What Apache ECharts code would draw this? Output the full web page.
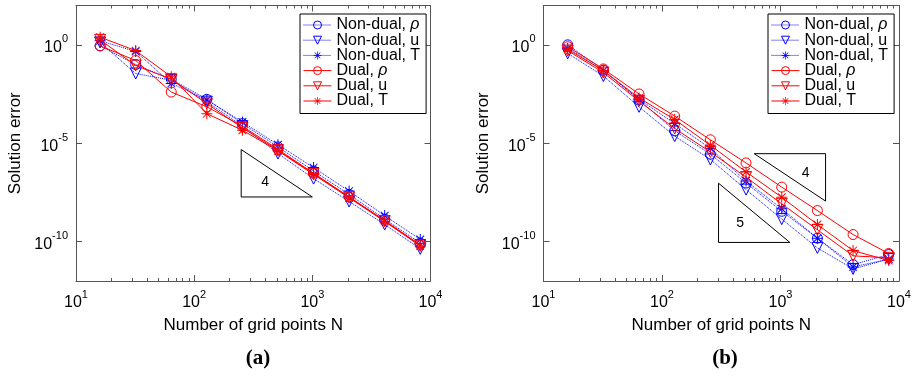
<!DOCTYPE html>
<html>
<head>
<meta charset="utf-8">
<script src="https://cdn.jsdelivr.net/npm/echarts@6/dist/echarts.min.js"></script>
<style>html,body{margin:0;padding:0;background:#fff}#c{width:916px;height:377px}</style>
</head>
<body>
<div id="c"></div>
<script>
// ---------- data ----------
const gridPoints = [16, 32, 64, 128, 256, 512, 1024, 2048, 4096, 8192];
const seriesNames = ['Non-dual, ρ', 'Non-dual, u', 'Non-dual, T', 'Dual, ρ', 'Dual, u', 'Dual, T'];

// panel (a)
const aNonDualRho = [0.89, 0.10, 1.8e-2, 1.7e-3, 1.0e-4, 6.5e-6, 3.9e-7, 2.5e-8, 1.4e-9, 8.5e-11];
const aNonDualU   = [1.32, 3.5e-2, 1.6e-2, 1.3e-3, 7.4e-5, 3.0e-6, 1.6e-7, 1.1e-8, 7.4e-10, 4.3e-11];
const aNonDualT   = [1.6, 0.46, 1.1e-2, 1.6e-3, 1.2e-4, 8.5e-6, 5.8e-7, 3.7e-8, 2.1e-9, 1.3e-10];
const aDualRho    = [0.89, 0.16, 4.0e-3, 7.1e-4, 7.4e-5, 4.9e-6, 3.0e-7, 1.9e-8, 1.2e-9, 6.8e-11];
const aDualU      = [1.8, 8.9e-2, 1.8e-2, 1.05e-3, 6.0e-5, 4.4e-6, 2.8e-7, 1.8e-8, 1.1e-9, 6.3e-11];
const aDualT      = [2.45, 0.51, 2.4e-2, 3.2e-4, 4.6e-5, 4.1e-6, 2.6e-7, 1.7e-8, 1.07e-9, 6.0e-11];

// panel (b)
const bNonDualRho = [1.0, 5.2e-2, 1.6e-3, 4.3e-5, 2.8e-6, 9.5e-8, 3.5e-9, 1.5e-10, 6.8e-12, 2.2e-11];
const bNonDualU   = [0.37, 2.6e-2, 7.1e-4, 2.3e-5, 1.5e-6, 4.4e-8, 1.4e-9, 4.8e-11, 4.1e-12, 1.3e-11];
const bNonDualT   = [0.68, 4.9e-2, 1.7e-3, 1.0e-4, 5.4e-6, 1.2e-7, 4.7e-9, 1.5e-10, 5.2e-12, 1.3e-11];
const bDualRho    = [0.81, 6.0e-2, 3.2e-3, 2.4e-4, 1.5e-5, 1.0e-6, 5.9e-8, 3.8e-9, 2.3e-10, 2.5e-11];
const bDualU      = [0.51, 3.9e-2, 1.4e-3, 5.6e-5, 3.6e-6, 1.9e-7, 8.3e-9, 4.0e-10, 1.9e-11, 1.5e-11];
const bDualT      = [0.60, 4.9e-2, 2.0e-3, 1.6e-4, 7.9e-6, 3.5e-7, 1.8e-8, 7.4e-10, 3.5e-11, 1.1e-11];

// slope triangles: [x1,y1,x2,y2,x3,y3,labelX,labelY,label]
const aTriangles = [[250, 4.8e-6, 250, 1.86e-8, 1000, 1.86e-8, 398, 1.07e-7, '4']];
const bTriangles = [
  [600, 2.95e-6, 2400, 2.95e-6, 2400, 1.15e-8, 1630, 3.0e-7, '4'],
  [300, 9.3e-8, 300, 9.1e-11, 1200, 9.1e-11, 456, 8.5e-10, '5']
];

// ticks
const xMajorTicks = [10, 100, 1000, 10000];
const xMinorTicks = [20, 30, 40, 50, 60, 70, 80, 90, 200, 300, 400, 500, 600, 700, 800, 900,
                     2000, 3000, 4000, 5000, 6000, 7000, 8000, 9000];
const yMajorTicks = [1e-10, 1e-5, 1];

// ---------- chart ----------
const FONT = 'Liberation Sans, Arial, Helvetica, sans-serif';
const AX = '#555';
const chart = echarts.init(document.getElementById('c'), null, {renderer: 'canvas'});

const supFmt = v => '{b|10}{s|' + Math.round(Math.log10(v)) + '}';
const supRich = {
  b: {fontSize: 16, fontFamily: FONT, color: '#000', lineHeight: 22, verticalAlign: 'bottom'},
  s: {fontSize: 11, fontFamily: FONT, color: '#000', lineHeight: 22, verticalAlign: 'top'}
};

const STAR = 'path://M9.1,0L10.9,0L10.9,20L9.1,20Z M0,9.1L20,9.1L20,10.9L0,10.9Z ' +
  'M3.64,2.36L17.64,16.36L16.36,17.64L2.36,3.64Z M16.36,2.36L17.64,3.64L3.64,17.64L2.36,16.36Z';

const styles = [
  {color: '#0000ff', type: 'dotted', symbol: 'circle', size: 10, rot: 0, filled: false},
  {color: '#0000ff', type: 'dotted', symbol: 'triangle', size: 11, rot: 180, filled: false},
  {color: '#0000ff', type: 'dotted', symbol: STAR, size: 11, rot: 0, filled: true},
  {color: '#ff0000', type: 'solid', symbol: 'circle', size: 10, rot: 0, filled: false},
  {color: '#ff0000', type: 'solid', symbol: 'triangle', size: 11, rot: 180, filled: false},
  {color: '#ff0000', type: 'solid', symbol: STAR, size: 11, rot: 0, filled: true}
];

const grids = [
  {left: 76, top: 5.5, width: 354.5, height: 275.5},
  {left: 543.5, top: 5.5, width: 355.5, height: 275.5}
];

const xAxes = [], yAxes = [];
grids.forEach((g, gi) => {
  xAxes.push({
    gridIndex: gi, type: 'log', logBase: 10, min: 10, max: 10000, position: 'bottom',
    axisLine: {show: true, lineStyle: {color: AX, width: 1}},
    axisTick: {show: true, inside: true, length: 6, lineStyle: {color: AX}, customValues: xMajorTicks},
    axisLabel: {show: true, margin: 8, formatter: supFmt, rich: supRich, customValues: xMajorTicks},
    splitLine: {show: false},
    name: 'Number of grid points N', nameLocation: 'middle', nameGap: 36,
    nameTextStyle: {fontSize: 17, fontFamily: FONT, color: '#000'}
  });
  xAxes.push({
    gridIndex: gi, type: 'log', logBase: 10, min: 10, max: 10000, position: 'top',
    axisLine: {show: true, lineStyle: {color: AX, width: 1}},
    axisTick: {show: true, inside: true, length: 6, lineStyle: {color: AX}, customValues: xMajorTicks},
    axisLabel: {show: false}, splitLine: {show: false}
  });
  ['bottom', 'top'].forEach(pos => xAxes.push({
    gridIndex: gi, type: 'log', logBase: 10, min: 10, max: 10000, position: pos, offset: 0,
    axisLine: {show: false},
    axisTick: {show: true, inside: true, length: 3, lineStyle: {color: AX}, customValues: xMinorTicks},
    axisLabel: {show: false}, splitLine: {show: false}
  }));
  yAxes.push({
    gridIndex: gi, type: 'log', logBase: 10, min: 1e-12, max: 1e2, position: 'left',
    axisLine: {show: true, lineStyle: {color: AX, width: 1}},
    axisTick: {show: true, inside: true, length: 6, lineStyle: {color: AX}, customValues: yMajorTicks},
    axisLabel: {show: true, margin: 8, formatter: supFmt, rich: supRich, customValues: yMajorTicks},
    splitLine: {show: false},
    name: 'Solution error', nameLocation: 'middle', nameGap: 52, nameRotate: 90,
    nameTextStyle: {fontSize: 17, fontFamily: FONT, color: '#000'}
  });
  yAxes.push({
    gridIndex: gi, type: 'log', logBase: 10, min: 1e-12, max: 1e2, position: 'right',
    axisLine: {show: true, lineStyle: {color: AX, width: 1}},
    axisTick: {show: true, inside: true, length: 6, lineStyle: {color: AX}, customValues: yMajorTicks},
    axisLabel: {show: false}, splitLine: {show: false}
  });
});

const panelData = [
  [aNonDualRho, aNonDualU, aNonDualT, aDualRho, aDualU, aDualT],
  [bNonDualRho, bNonDualU, bNonDualT, bDualRho, bDualU, bDualT]
];

const series = [];
panelData.forEach((arrs, gi) => {
  arrs.forEach((vals, si) => {
    const st = styles[si];
    series.push({
      name: seriesNames[si], type: 'line',
      xAxisIndex: gi * 4, yAxisIndex: gi * 2,
      data: gridPoints.map((n, i) => [n, vals[i]]),
      symbol: st.symbol, symbolSize: st.size, symbolRotate: st.rot,
      showAllSymbol: true,
      lineStyle: {color: st.color, width: 1, type: st.type},
      itemStyle: st.filled
        ? {color: st.color, borderWidth: 0}
        : {color: 'rgba(0,0,0,0)', borderColor: st.color, borderWidth: 1},
      emphasis: {disabled: true},
      animation: false, z: 2 + si
    });
  });
});

function triangleRender(params, api) {
  const p1 = api.coord([api.value(0), api.value(1)]);
  const p2 = api.coord([api.value(2), api.value(3)]);
  const p3 = api.coord([api.value(4), api.value(5)]);
  const pl = api.coord([api.value(6), api.value(7)]);
  return {
    type: 'group',
    children: [
      {type: 'polygon', shape: {points: [p1, p2, p3]},
       style: {fill: null, stroke: '#000', lineWidth: 1}},
      {type: 'text', x: pl[0], y: pl[1],
       style: {text: String(api.value(8)), fill: '#000', font: '14px ' + FONT,
               align: 'center', verticalAlign: 'middle'}}
    ]
  };
}
[aTriangles, bTriangles].forEach((tris, gi) => {
  series.push({
    type: 'custom', xAxisIndex: gi * 4, yAxisIndex: gi * 2,
    renderItem: triangleRender, data: tris, silent: true, animation: false, z: 1,
    encode: {x: [0, 2, 4, 6], y: [1, 3, 5, 7]}
  });
});

const LEG_SIZE = 16;
function makeLegend(left) {
  return {
    orient: 'vertical', left: left, top: 14, itemWidth: 28, itemHeight: 10, itemGap: -0.8,
    padding: [3, 6, 4.5, 3], backgroundColor: '#fff', borderColor: '#000', borderWidth: 1,
    selectedMode: false,
    data: seriesNames,
    itemStyle: {borderWidth: 1},
    lineStyle: {width: 1, type: 'inherit'},
    formatter: name => {
      const k = name.indexOf('ρ');
      return k >= 0 ? name.slice(0, k) + '{i|ρ}' : name;
    },
    textStyle: {
      fontSize: LEG_SIZE, fontFamily: FONT, color: '#000', lineHeight: 14,
      rich: {i: {fontSize: LEG_SIZE, fontFamily: FONT, fontStyle: 'italic', color: '#000', lineHeight: 14}}
    }
  };
}

const option = {
  animation: false,
  backgroundColor: '#fff',
  title: [
    {text: '(a)', left: 253, top: 343, textAlign: 'center',
     textStyle: {fontFamily: 'Liberation Serif, Times New Roman, serif', fontWeight: 'bold', fontSize: 21, color: '#000'}},
    {text: '(b)', left: 720, top: 343, textAlign: 'center',
     textStyle: {fontFamily: 'Liberation Serif, Times New Roman, serif', fontWeight: 'bold', fontSize: 21, color: '#000'}}
  ],
  legend: [makeLegend(300), makeLegend(768)],
  grid: grids,
  xAxis: xAxes,
  yAxis: yAxes,
  series: series
};
chart.setOption(option);
</script>
</body>
</html>
